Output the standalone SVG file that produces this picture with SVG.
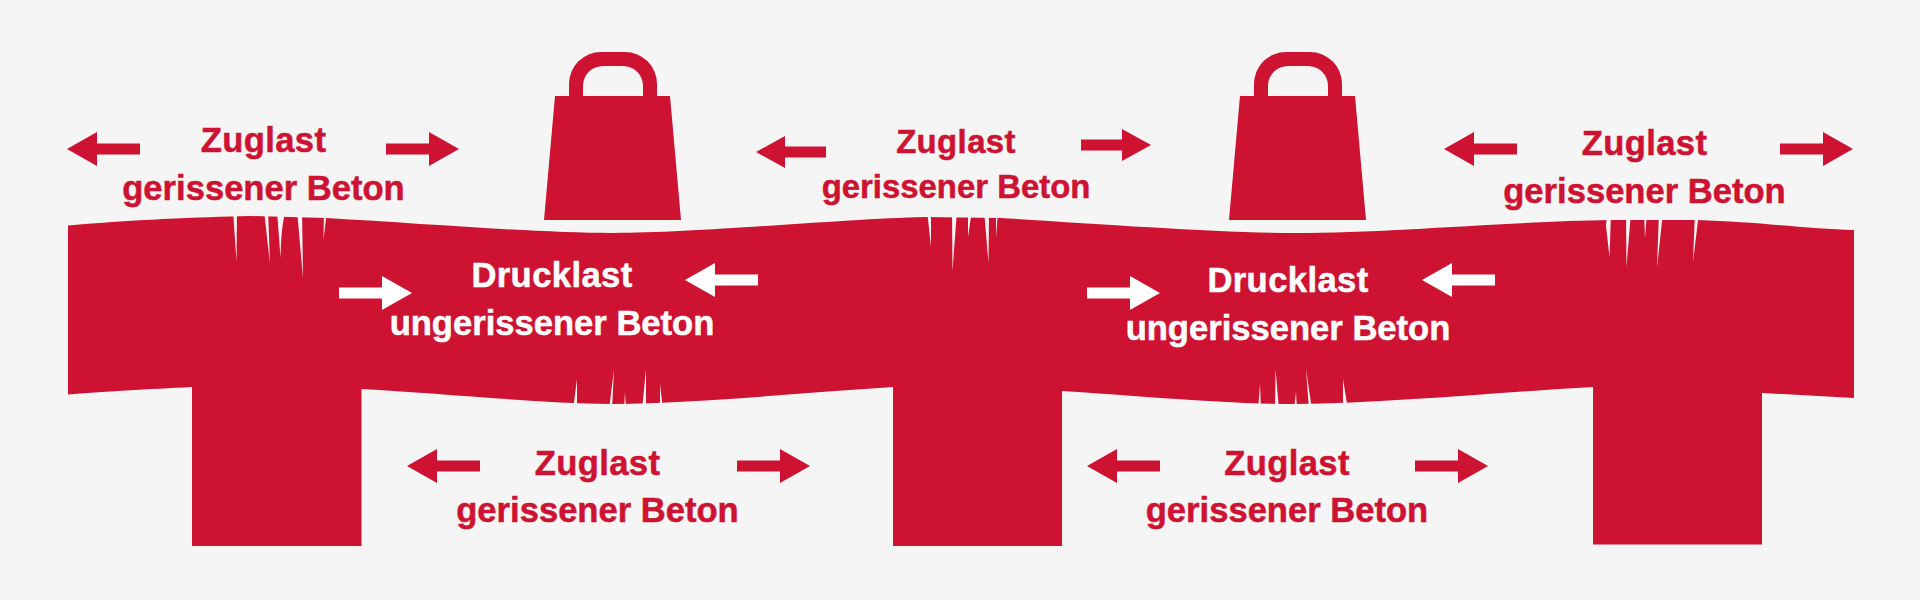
<svg xmlns="http://www.w3.org/2000/svg" width="1920" height="600" viewBox="0 0 1920 600">
<style>
.r{fill:#ce1231}
.w{fill:#fff}
.b{fill:#f5f5f5}
text{font-family:"Liberation Sans",Arial,sans-serif;font-weight:700;font-size:34.6px;text-anchor:middle;stroke-width:.5px}
.tr{fill:#ce1231;stroke:#ce1231}
.tw{fill:#fff;stroke:#fff}
.s{letter-spacing:.4px}
.sm{font-size:32.9px}
</style>
<defs>
<path id="ar" d="M0-5.5H43V-17L73 0 43 17V5.5H0Z"/>
<path id="al" d="M73-5.5H30V-17L0 0 30 17V5.5H73Z"/>
<path id="ar2" d="M0-5.5H41V-16L70 0 41 16V5.5H0Z"/>
<path id="al2" d="M70-5.5H29V-16L0 0 29 16V5.5H70Z"/>
<path id="wt" d="M25 44V32A32 32 0 0 1 57 0H81A32 32 0 0 1 113 32V44H126L137 168H0L11 44ZM39 44H99V34A20 20 0 0 0 79 14H59A20 20 0 0 0 39 34Z" fill-rule="evenodd"/>
</defs>
<rect width="1920" height="600" class="b"/>
<g id="beam">
<path class="r" d="M68 225.500C130 220 200 217 250 216L326 218C430 224 540 233 612 233C700 233 840 219 925 217L1000 218C1100 224 1220 233 1295 233C1390 233 1520 221 1610 220L1697 220C1760 222 1810 229 1854 230V398L1762 393V544.500H1593V387C1500 392 1390 403 1295 404C1220 404 1130 395 1062 391V546H893V387C800 393 700 403 612 404C530 403 440 393 361.500 389V546H192V387C150 389 100 392 68 394.500Z"/>
<g id="cracks" class="b">
<path d="M233 210H237L236.500 262Z"/><path d="M264 210H268L270 264Z"/><path d="M277 210H286Q281 225 280.500 258Z"/><path d="M297 210H302L303 278Z"/><path d="M324 210H327L323.500 240Z"/>
<path d="M927 210H931L931 247Z"/><path d="M952 210H957L952.500 271Z"/><path d="M968 210H972L968 237Z"/><path d="M984 210H989L988.500 263Z"/><path d="M996 210H998L996 238Z"/>
<path d="M1607 212H1611L1609.500 257L1606 226Z"/><path d="M1626 212H1631L1626.500 267Z"/><path d="M1644 212H1647L1645 238Z"/><path d="M1659 212H1663L1657 268Z"/><path d="M1695 212H1699L1693 262Z"/>
<path d="M573 410H577L577 379Z"/><path d="M609 410H612L614 369Z"/><path d="M624 410H626L625 392Z"/><path d="M642 410H646L646 369Z"/><path d="M660 410H663L660 384Z"/>
<path d="M1258 410H1261L1260 384Z"/><path d="M1275 410H1279L1275.500 369Z"/><path d="M1294 410H1297L1296 392Z"/><path d="M1309 410H1312L1306 369Z"/><path d="M1343 410H1348L1343 379Z"/>
</g>
</g>
<g id="weight-1" class="r"><use href="#wt" x="544" y="52"/></g>
<g id="weight-2" class="r"><use href="#wt" x="1229" y="52"/></g>
<g id="connectors">
<g class="r">
<use href="#al" x="67" y="149"/><use href="#ar" x="386" y="149"/>
<use href="#al2" x="756" y="152"/><use href="#ar2" x="1081" y="145"/>
<use href="#al" x="1444" y="149"/><use href="#ar" x="1780" y="149"/>
<use href="#al" x="407" y="466"/><use href="#ar" x="737" y="466"/>
<use href="#al" x="1087" y="466"/><use href="#ar" x="1415" y="466"/>
</g>
<g class="w">
<use href="#ar" x="339" y="293"/><use href="#al" x="685" y="280"/>
<use href="#ar" x="1087" y="293"/><use href="#al" x="1422" y="280"/>
</g>
</g>
<g id="label-top-1"><text class="tr s" x="263.500" y="151.500">Zuglast</text><text class="tr" x="263.500" y="199.500">gerissener Beton</text></g>
<g id="label-top-2"><text class="tr s sm" x="956" y="153">Zuglast</text><text class="tr sm" x="956" y="198">gerissener Beton</text></g>
<g id="label-top-3"><text class="tr s" x="1644.500" y="154.500">Zuglast</text><text class="tr" x="1644.500" y="202.500">gerissener Beton</text></g>
<g id="label-mid-1"><text class="tw s" x="552" y="287">Drucklast</text><text class="tw" x="552" y="335">ungerissener Beton</text></g>
<g id="label-mid-2"><text class="tw s" x="1288" y="292">Drucklast</text><text class="tw" x="1288" y="340">ungerissener Beton</text></g>
<g id="label-bottom-1"><text class="tr s" x="597.500" y="474.500">Zuglast</text><text class="tr" x="597.500" y="522">gerissener Beton</text></g>
<g id="label-bottom-2"><text class="tr s" x="1287" y="474.500">Zuglast</text><text class="tr" x="1287" y="522">gerissener Beton</text></g>
</svg>
